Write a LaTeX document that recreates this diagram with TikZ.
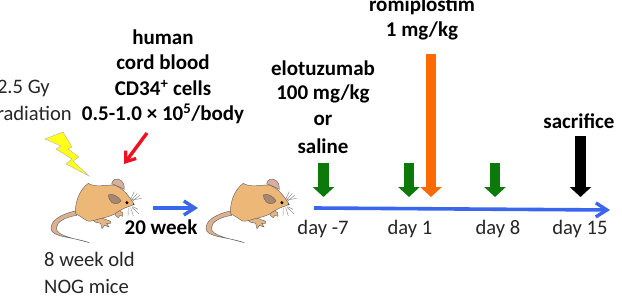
\documentclass[tikz,border=0pt]{standalone}
\usepackage{fontspec}
\setmainfont{Carlito}
\usetikzlibrary{arrows.meta}
\definecolor{fur}{HTML}{EDB877}
\definecolor{tailc}{HTML}{DDB08F}
\definecolor{earc}{HTML}{D9AE9C}
\definecolor{inear}{HTML}{A98670}
\definecolor{blueline}{HTML}{3A66EE}
\definecolor{dosegreen}{HTML}{0B7A0B}
\definecolor{doseorange}{HTML}{FF6A00}
\definecolor{boltc}{HTML}{FFFF1A}
\definecolor{redarrow}{HTML}{F01020}
\tikzset{
  x=1pt,y=-1pt,
  lbl/.style={font=\fontsize{20.6}{20.6}\selectfont,inner sep=0pt,align=center,text=black!85},
  blbl/.style={lbl,font=\fontsize{21}{21}\selectfont\bfseries,text=black},
  dose/.style={-{Triangle[length=10pt,width=21pt]},line width=10.5pt},
  timeline/.style={-{Straight Barb[length=11pt,width=14pt,line width=3.4pt]},blueline,line width=3.6pt},
  whisk/.style={black!50,line width=.4pt},
  outl/.style={draw=black!60,line width=.45pt}
}
% One mouse; local coordinates run at three units to the pixel
\newcommand{\mouseat}[1]{%
\begin{scope}[shift={(#1,140)},x=.3333pt,y=-.3333pt]
  % tail
  \draw[outl,fill=tailc] (226,213) .. controls (185,222) and (153,240) .. (153,265)
     .. controls (153,292) and (215,290) .. (268,308)
     .. controls (225,296) and (170,288) .. (169,265)
     .. controls (169,245) and (195,232) .. (230,226) -- cycle;
  % far ear
  \draw[outl,fill=earc] (335,132) .. controls (336,118) and (352,112) .. (364,122)
     .. controls (372,130) and (374,140) .. (373,148) -- (345,135) -- cycle;
  % back foot
  \draw[outl,fill=fur!70!earc] (278,240) -- (305,234) -- (332,244) -- (331,250) -- (320,250)
     -- (327,261) -- (314,256) -- (306,266) -- (302,250) -- (285,246) -- cycle;
  % body
  \draw[outl,fill=fur] (228,222) .. controls (222,200) and (235,150) .. (265,130)
     .. controls (285,143) and (315,135) .. (340,135)
     .. controls (365,140) and (385,165) .. (402,192)
     .. controls (395,200) and (375,200) .. (360,212)
     .. controls (345,225) and (320,232) .. (300,236)
     .. controls (285,240) and (275,245) .. (262,243)
     .. controls (250,235) and (240,228) .. (228,222) -- cycle;
  % front paw
  \draw[outl,fill=fur!70!earc] (345,222) -- (358,212) -- (368,218) -- (369,229) -- (360,226) -- (355,233) -- (348,228) -- cycle;
  % inner ear
  \draw[outl,fill=inear] (325,165) .. controls (338,158) and (355,170) .. (363,182)
     .. controls (358,192) and (345,194) .. (335,187) .. controls (328,180) and (325,172) .. (325,165) -- cycle;
  % eye and nose
  \fill[black] (381,188) circle[radius=5];
  \fill[black!80] (401,193) circle[radius=2.5];
  % whiskers
  \draw[whisk] (392,178) -- (403,155) (395,180) -- (412,160) (397,180) -- (425,175) (397,184) -- (420,165)
     (385,205) -- (384,229) (392,203) -- (400,228) (396,202) -- (417,222) (398,200) -- (414,208);
\end{scope}}
\begin{document}
\begin{tikzpicture}
\useasboundingbox (0,0) rectangle (622,305);
\fill[white] (0,0) rectangle (622,305);
\mouseat{0}
\mouseat{155}
% lightning bolt
\draw[draw=black!30,line width=.4pt,fill=boltc] (45,139) -- (63,132) -- (72,147) -- (68,149) -- (79,157) -- (73,161) -- (89,176) -- (66,164) -- (72,159) -- (56,149) -- (61,146) -- cycle;
% labels
\node[lbl,anchor=east] (gy) at (50,88) {2.5 Gy};
\node[lbl,anchor=east] (irr) at (72,113) {irradiation};
\node[blbl] (hum) at (163,37) {human};
\node[blbl] (cord) at (163,62) {cord blood};
\node[blbl] (cd) at (163,88) {CD34\textsuperscript{+} cells};
\node[blbl] (dose0) at (163,114) {0.5-1.0 × 10\textsuperscript{5}/body};
\node[blbl] (wk) at (161,227) {20 week};
\node[lbl,anchor=west] (old) at (44,259) {8 week old};
\node[lbl,anchor=west] (nog) at (44,286) {NOG mice};
\node[blbl] (elo) at (323,68) {elotuzumab};
\node[blbl] (mg) at (323,94) {100 mg/kg};
\node[blbl] (orr) at (323,120) {or};
\node[blbl] (sal) at (323,146) {saline};
\node[blbl] (rom) at (422,6) {romiplostim};
\node[blbl] (one) at (422,31) {1 mg/kg};
\node[blbl] (sac) at (579,121) {sacrifice};
\node[lbl] (d7) at (323,229) {day -7};
\node[lbl] (d1) at (410,229) {day 1};
\node[lbl] (d8) at (498,229) {day 8};
\node[lbl] (d15) at (580,229) {day 15};
% red cell-injection arrow
\coordinate (ra) at (147,133);
\coordinate (rb) at (124,164);
\draw[-{Straight Barb[length=9pt,width=13pt,line width=3.2pt]},redarrow,line width=3.4pt] (ra) -- (rb);
% arrow between the two mice
\coordinate (wa) at (153,208);
\coordinate (wb) at (198,208);
\draw[timeline] (wa) -- (wb);
% timeline
\coordinate (ta) at (314,208);
\coordinate (tb) at (610,210);
\draw[timeline] (ta) -- (tb);
% dosing arrows
\coordinate (g1a) at (323.5,163); \coordinate (g1b) at (323.5,197);
\coordinate (g2a) at (409,163); \coordinate (g2b) at (409,197);
\coordinate (g3a) at (495,163); \coordinate (g3b) at (495,197);
\coordinate (oa) at (431,54); \coordinate (ob) at (431,197);
\coordinate (ka) at (580.5,136); \coordinate (kb) at (580.5,197);
\draw[dose,dosegreen] (g1a) -- (g1b);
\draw[dose,dosegreen] (g2a) -- (g2b);
\draw[dose,dosegreen] (g3a) -- (g3b);
\draw[dose,doseorange] (oa) -- (ob);
\draw[dose,black] (ka) -- (kb);
\end{tikzpicture}
\end{document}
